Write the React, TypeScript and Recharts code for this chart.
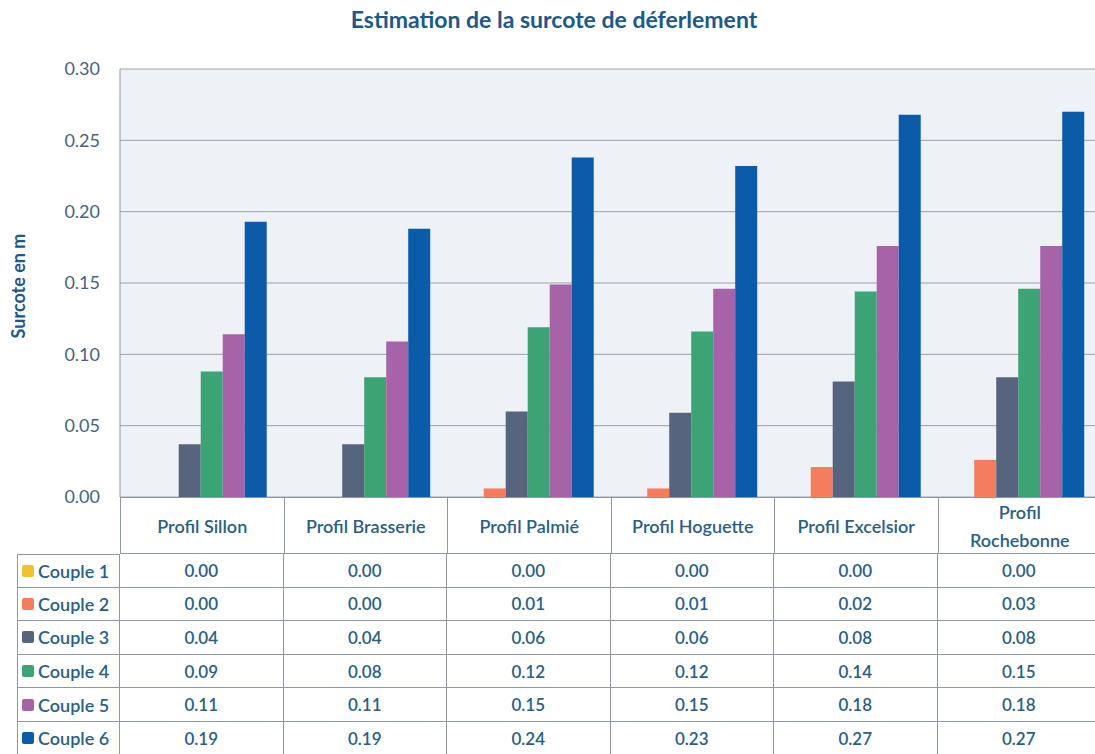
import { Bar, BarChart, CartesianGrid, XAxis, YAxis } from "recharts";

const profils = [
  "Profil Sillon",
  "Profil Brasserie",
  "Profil Palmié",
  "Profil Hoguette",
  "Profil Excelsior",
  "Profil\nRochebonne",
];

const couple1 = [0, 0, 0, 0, 0, 0];
const couple2 = [0, 0, 0.006, 0.006, 0.021, 0.026];
const couple3 = [0.037, 0.037, 0.06, 0.059, 0.081, 0.084];
const couple4 = [0.088, 0.084, 0.119, 0.116, 0.144, 0.146];
const couple5 = [0.114, 0.109, 0.149, 0.146, 0.176, 0.176];
const couple6 = [0.193, 0.188, 0.238, 0.232, 0.268, 0.27];

const yTicks = [0, 0.05, 0.1, 0.15, 0.2, 0.25, 0.3];

const series = [
  { key: "c1", name: "Couple 1", values: couple1, color: "#EFC22E" },
  { key: "c2", name: "Couple 2", values: couple2, color: "#F47D5D" },
  { key: "c3", name: "Couple 3", values: couple3, color: "#56647E" },
  { key: "c4", name: "Couple 4", values: couple4, color: "#3CA375" },
  { key: "c5", name: "Couple 5", values: couple5, color: "#A663A8" },
  { key: "c6", name: "Couple 6", values: couple6, color: "#0B5BA9" },
];

const data = profils.map((profil, i) => {
  const row: Record<string, string | number> = { profil };
  series.forEach((s) => (row[s.key] = s.values[i]));
  return row;
});

const FONT = "Lato, 'Open Sans', sans-serif";
const TEXT = "#2B5E86";
const BORDER = "#8E96A7";

const PLOT_LEFT = 120;
const PLOT_WIDTH = 981;
const COL = PLOT_WIDTH / profils.length;
const LEGEND_LEFT = 17;
const HEADER_TOP = 497;
const HEADER_H = 57;
const ROW_H = 33.6;

export default function App() {
  return (
    <div
      style={{
        position: "absolute",
        left: 0,
        top: 0,
        width: 1095,
        height: 754,
        overflow: "hidden",
        background: "#fff",
        fontFamily: FONT,
      }}
    >
      <div
        style={{
          position: "absolute",
          top: 5,
          left: 0,
          width: 1108,
          textAlign: "center",
          fontSize: 23,
          fontWeight: 700,
          color: "#1D5888",
        }}
      >
        Estimation de la surcote de déferlement
      </div>
      <div
        style={{
          position: "absolute",
          left: 18,
          top: 286,
          transform: "translate(-50%, -50%) rotate(-90deg)",
          fontSize: 18,
          fontWeight: 700,
          color: "#1D5888",
          whiteSpace: "nowrap",
        }}
      >
        Surcote en m
      </div>

      <div style={{ position: "absolute", left: 0, top: 0 }}>
        <BarChart
          width={PLOT_LEFT + PLOT_WIDTH}
          height={HEADER_TOP + 40}
          data={data}
          margin={{ top: 69, right: 0, bottom: 40, left: 0 }}
          barGap={0}
          barCategoryGap="9%"
        >
          <CartesianGrid vertical={false} stroke="#9BA1AE" fill="#EEF1F6" />
          <XAxis dataKey="profil" hide />
          <YAxis
            width={PLOT_LEFT}
            domain={[0, 0.3]}
            ticks={yTicks}
            tickFormatter={(v) => Number(v).toFixed(2)}
            axisLine={{ stroke: BORDER }}
            tickLine={false}
            tickSize={0}
            tickMargin={20}
            tick={{ fill: "#46637E", fontSize: 18, fontFamily: FONT }}
          />
          {series.map((s) => (
            <Bar
              key={s.key}
              dataKey={s.key}
              name={s.name}
              fill={s.color}
              isAnimationActive={false}
            />
          ))}
        </BarChart>
      </div>

      {/* category header row */}
      {profils.map((p, i) => (
        <div
          key={p}
          style={{
            position: "absolute",
            left: PLOT_LEFT + i * COL,
            top: HEADER_TOP,
            width: COL,
            height: HEADER_H,
            boxSizing: "border-box",
            borderLeft: `1px solid ${BORDER}`,
            borderBottom: `1px solid ${BORDER}`,
            borderTop: `1px solid ${BORDER}`,
            background: "#fff",
            display: "flex",
            alignItems: "center",
            justifyContent: "center",
            textAlign: "center",
            whiteSpace: "pre-line",
            fontSize: 18,
            fontWeight: 600,
            lineHeight: "28px",
            color: TEXT,
          }}
        >
          {p}
        </div>
      ))}

      {/* data table with legend keys */}
      {series.map((s, r) => {
        const top = HEADER_TOP + HEADER_H + r * ROW_H;
        return (
          <div key={s.key}>
            <div
              style={{
                position: "absolute",
                left: LEGEND_LEFT,
                top,
                width: PLOT_LEFT - LEGEND_LEFT,
                height: ROW_H,
                boxSizing: "border-box",
                border: `1px solid ${BORDER}`,
                borderTop: r === 0 ? `1px solid ${BORDER}` : "none",
                display: "flex",
                alignItems: "center",
                paddingLeft: 4,
                fontSize: 18,
                fontWeight: 600,
                color: TEXT,
                whiteSpace: "nowrap",
              }}
            >
              <span
                style={{
                  display: "inline-block",
                  width: 12,
                  height: 12,
                  borderRadius: 2,
                  background: s.color,
                  marginRight: 4,
                }}
              />
              {s.name}
            </div>
            {s.values.map((v, i) => (
              <div
                key={i}
                style={{
                  position: "absolute",
                  left: PLOT_LEFT + i * COL,
                  top,
                  width: COL,
                  height: ROW_H,
                  boxSizing: "border-box",
                  borderRight: `1px solid ${BORDER}`,
                  borderBottom: `1px solid ${BORDER}`,
                  display: "flex",
                  alignItems: "center",
                  justifyContent: "center",
                  fontSize: 17,
                  fontWeight: 600,
                  color: TEXT,
                }}
              >
                {v.toFixed(2)}
              </div>
            ))}
          </div>
        );
      })}
    </div>
  );
}
